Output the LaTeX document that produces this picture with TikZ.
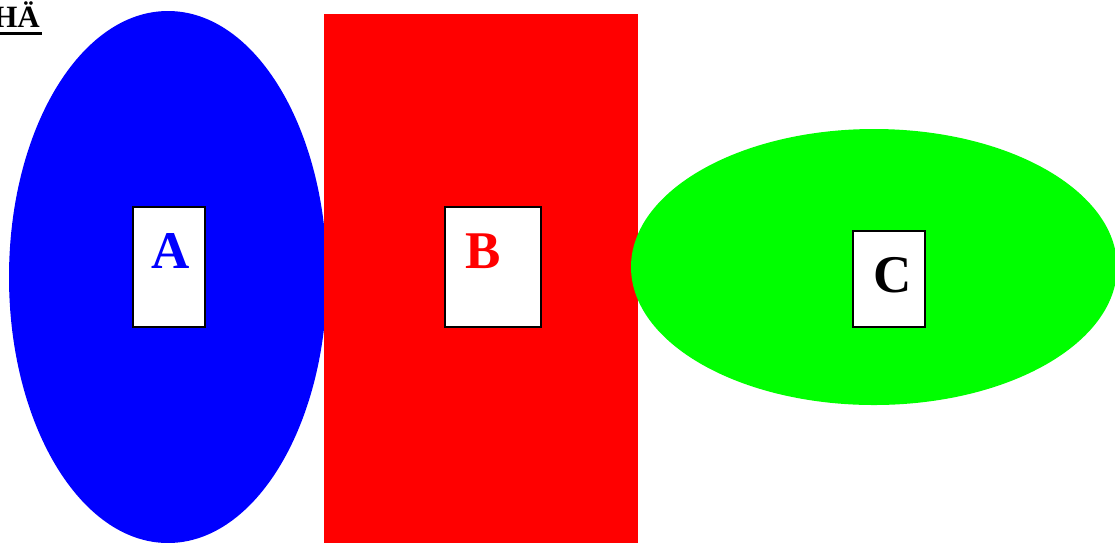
\documentclass[tikz,border=0pt]{standalone}
\usepackage{fontspec}
\setmainfont{Liberation Serif}
\usetikzlibrary{shapes.geometric}
\begin{document}
\begin{tikzpicture}[x=1pt,y=-1pt,
  blob/.style={draw=none,inner sep=0pt,outer sep=0pt},
  tag/.style={draw=black,line width=2pt,fill=white,inner sep=0pt,outer sep=0pt},
  letter/.style={font=\fontsize{53}{53}\selectfont\bfseries,inner sep=0pt,anchor=base}]
\useasboundingbox (0,0) rectangle (1115,542);
\node[blob,ellipse,fill=blue,minimum width=318pt,minimum height=532pt] (ea) at (168,277) {};
\node[blob,rectangle,fill=red,minimum width=314pt,minimum height=540pt] (rb) at (481,284) {};
\node[blob,ellipse,fill={rgb,255:red,0;green,255;blue,0},minimum width=486pt,minimum height=276pt] (ec) at (874,267) {};
\node[tag,minimum width=72pt,minimum height=120pt] (ba) at (169,267) {};
\node[tag,minimum width=96pt,minimum height=120pt] (bb) at (493,267) {};
\node[tag,minimum width=72pt,minimum height=96pt] (bc) at (889,279) {};
\node[letter,text=blue] (ta) at (171,268) {A};
\node[letter,text=red] (tb) at (483,268) {B};
\node[letter,text=black] (tc) at (893,292) {C};
\node[anchor=base east,inner sep=0pt,font=\fontsize{31}{31}\selectfont\bfseries] (title) at (40,27) {HÄ};
\coordinate (ul1) at (0,33.5);
\coordinate (ul2) at (42,33.5);
\draw[line width=3pt] (ul1) -- (ul2);
\end{tikzpicture}
\end{document}
